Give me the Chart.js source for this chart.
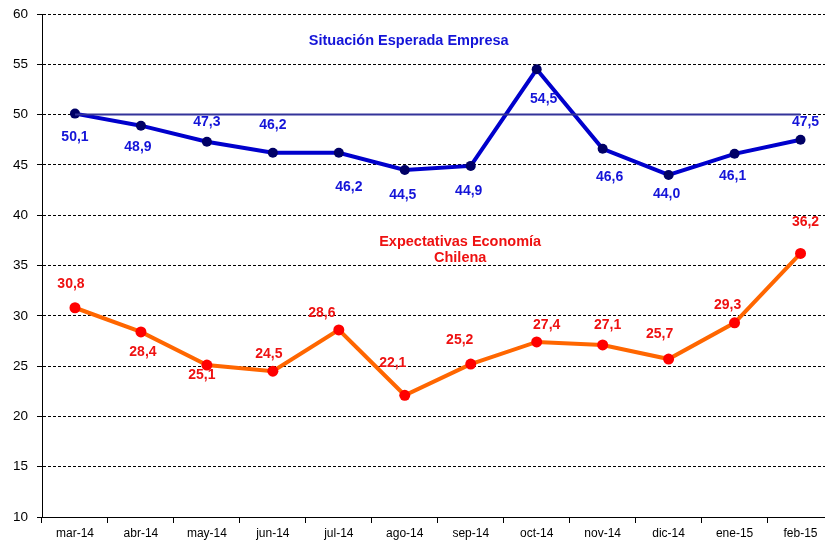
<!DOCTYPE html>
<html>
<head>
<meta charset="utf-8">
<script src="https://cdn.jsdelivr.net/npm/chart.js@4.4.1/dist/chart.umd.min.js"></script>
<style>
    body { margin: 0; background: #fff; overflow: hidden; }
    #wrap { width: 839px; height: 543px; }
</style>
</head>
<body>
<div id="wrap"><canvas id="chartCanvas" width="839" height="543"></canvas></div>
<script>
const months = ["mar-14", "abr-14", "may-14", "jun-14", "jul-14", "ago-14", "sep-14", "oct-14", "nov-14", "dic-14", "ene-15", "feb-15"];
const empresa = [50.1, 48.9, 47.3, 46.2, 46.2, 44.5, 44.9, 54.5, 46.6, 44.0, 46.1, 47.5];
const chilena = [30.8, 28.4, 25.1, 24.5, 28.6, 22.1, 25.2, 27.4, 27.1, 25.7, 29.3, 36.2];
const reference = [50, 50, 50, 50, 50, 50, 50, 50, 50, 50, 50, 50];

// label offsets from each point (px)
const empresaLabelOffset = [[0, 24], [-3, 21], [0, -20], [0, -28], [10, 34], [-2, 25], [-2, 25], [7, 30], [7, 28], [-2, 19], [-2, 22], [5, -18]];
const chilenaLabelOffset = [[-4, -24], [2, 20], [-5, 10], [-4, -17], [-17, -17], [-12, -32], [-11, -24], [10, -17], [5, -20], [-9, -25], [-7, -18], [5, -31]];

const BLUE = "#0000CC";
const BLUE_TEXT = "#1414D8";
const RED_TEXT = "#EE1111";
const FONT = "Arial, 'Liberation Sans', sans-serif";

function fmt(v) {
    return v.toFixed(1).replace(".", ",");
}

const labelPlugin = {
    id: "pointLabels",
    afterDatasetsDraw(chart) {
        const ctx = chart.ctx;
        const x = chart.scales.x;
        const y = chart.scales.y;
        ctx.save();
        ctx.font = "bold 14px " + FONT;
        ctx.textAlign = "center";
        ctx.textBaseline = "middle";

        const sets = [
            { idx: 1, values: empresa, offs: empresaLabelOffset, color: BLUE_TEXT },
            { idx: 2, values: chilena, offs: chilenaLabelOffset, color: RED_TEXT }
        ];
        sets.forEach(s => {
            const meta = chart.getDatasetMeta(s.idx);
            ctx.fillStyle = s.color;
            meta.data.forEach((pt, i) => {
                ctx.fillText(fmt(s.values[i]), pt.x + s.offs[i][0], pt.y + s.offs[i][1]);
            });
        });

        // series names
        ctx.font = "bold 14.5px " + FONT;
        ctx.fillStyle = BLUE_TEXT;
        ctx.fillText("Situación Esperada Empresa", x.getPixelForValue(5.06), y.getPixelForValue(57.3));
        ctx.fillStyle = RED_TEXT;
        ctx.fillText("Expectativas Economía", x.getPixelForValue(5.84), y.getPixelForValue(37.35));
        ctx.fillText("Chilena", x.getPixelForValue(5.84), y.getPixelForValue(35.75));
        ctx.restore();
    }
};

const ctx = document.getElementById("chartCanvas").getContext("2d");

new Chart(ctx, {
    type: "line",
    data: {
        labels: months,
        datasets: [
            {
                label: "Referencia",
                data: reference,
                borderColor: "#333399",
                borderWidth: 2,
                pointRadius: 0,
                tension: 0
            },
            {
                label: "Situación Esperada Empresa",
                data: empresa,
                borderColor: BLUE,
                borderWidth: 4,
                pointRadius: 5,
                pointBackgroundColor: "#000066",
                pointBorderWidth: 0,
                tension: 0
            },
            {
                label: "Expectativas Economía Chilena",
                data: chilena,
                borderColor: "#FF6600",
                borderWidth: 4,
                pointRadius: 5.5,
                pointBackgroundColor: "#FF0000",
                pointBorderWidth: 0,
                tension: 0
            }
        ]
    },
    options: {
        responsive: false,
        animation: false,
        layout: { padding: { top: 14, right: 0, left: 0, bottom: 0 } },
        plugins: {
            legend: { display: false },
            tooltip: { enabled: false }
        },
        scales: {
            x: {
                offset: true,
                grid: {
                    offset: true,
                    drawOnChartArea: false,
                    drawTicks: true,
                    tickLength: 6,
                    color: "#000"
                },
                border: { display: true, color: "#000", width: 1 },
                ticks: {
                    color: "#000",
                    font: { family: FONT, size: 12 },
                    padding: 3,
                    maxRotation: 0
                },
                afterFit(scale) { scale.height = 26; }
            },
            y: {
                min: 10,
                max: 60,
                ticks: {
                    stepSize: 5,
                    color: "#000",
                    font: { family: FONT, size: 13.5 },
                    padding: 9
                },
                grid: {
                    color: "#000",
                    lineWidth: 1,
                    drawTicks: true,
                    tickLength: 5
                },
                border: { display: true, color: "#000", width: 1, dash: [3, 2] },
                afterFit(scale) {
                    scale.width = 42;
                    scale.paddingTop = 0;
                    scale.paddingBottom = 0;
                }
            }
        }
    },
    plugins: [labelPlugin]
});
</script>
</body>
</html>
